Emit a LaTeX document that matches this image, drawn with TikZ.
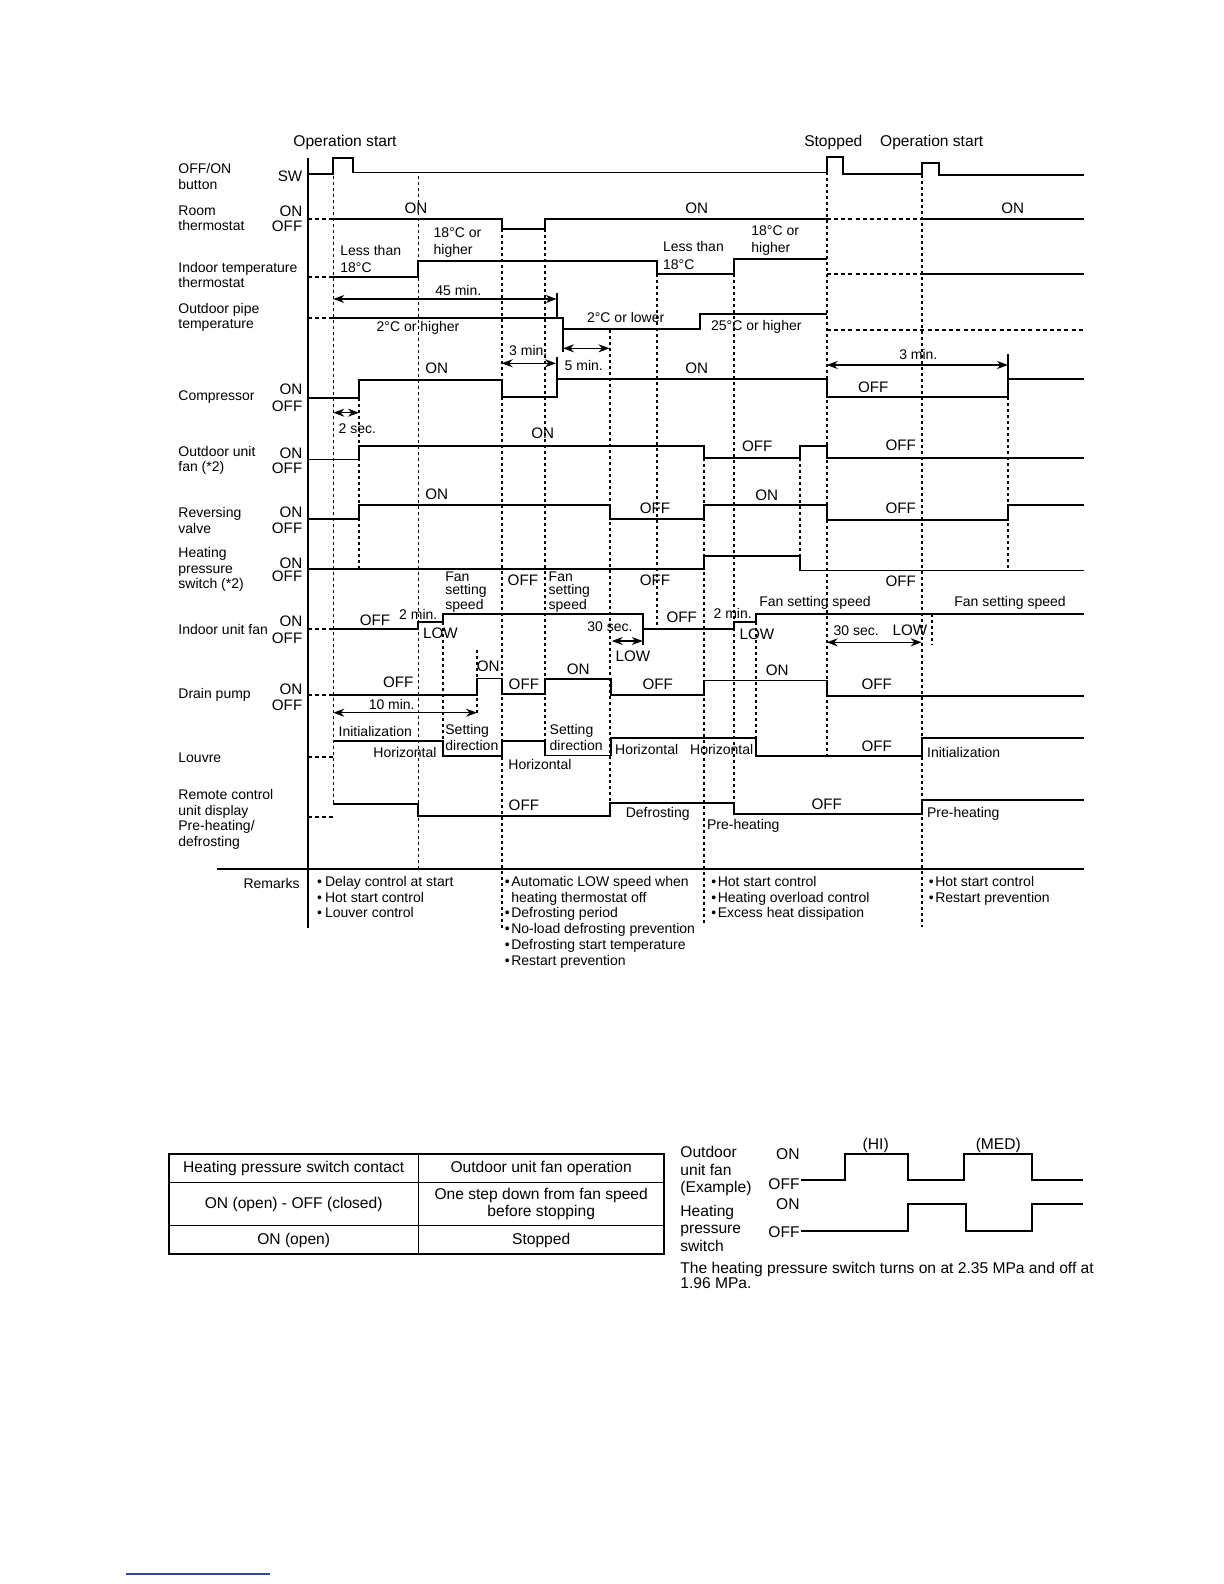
\documentclass[tikz,border=0pt]{standalone}
\usepackage{fontspec}
\setmainfont{Liberation Sans}
\usetikzlibrary{arrows.meta}
\definecolor{clrline}{HTML}{000000}
\definecolor{clrrule}{HTML}{2E4A9E}
\newcommand{\rbul}[1]{\makebox[#1][l]{\textbullet}}
\begin{document}
\begin{tikzpicture}[
    x=0.5pt, y=-0.5pt,
    >={Stealth[length=5.5pt,width=4pt]},
    every node/.style={inner sep=0pt, text=clrline, font=\fontsize{7}{7.75}\selectfont},
    sig/.style={draw=clrline, line width=0.9pt},
    dashsig/.style={draw=clrline, line width=0.85pt, dash pattern=on 2pt off 1.6pt},
    tline/.style={draw=clrline, line width=0.8pt, dash pattern=on 1.7pt off 1.3pt},
    tick/.style={draw=clrline, line width=0.85pt},
    span/.style={<->, draw=clrline, line width=0.7pt},
    axis/.style={draw=clrline, line width=1.1pt},
    state/.style={font=\fontsize{7.6}{8}\selectfont},
    head/.style={font=\fontsize{7.8}{8.6}\selectfont},
    rowlabel/.style={anchor=west, align=left},
    level/.style={anchor=east, state},
    pair/.style={anchor=west, align=left, font=\fontsize{7}{8.6}\selectfont},
    stack/.style={anchor=west, align=left, font=\fontsize{7}{6.4}\selectfont},
    tight/.style={anchor=west, align=left, font=\fontsize{7}{5.9}\selectfont},
    remark/.style={anchor=north west, align=left, font=\fontsize{7}{7.85}\selectfont},
]
\useasboundingbox (0,0) rectangle (1224,1584);

% headings
\node[head] (n_start) at (345,142.3) {Operation start};
\node[head] (n_stop) at (833.3,142) {Stopped};
\node[head] (n_restart) at (931.7,142) {Operation start};

% row labels
\node[rowlabel] (n_sw) at (178,176.3) {OFF/ON\\button};
\node[level, font=\fontsize{7.6}{8}\selectfont] (n_sw_lv) at (302.7,176.7) {SW};
\node[rowlabel] (n_room) at (178,218.5) {Room\\thermostat};
\node[level] (n_room_on) at (302.7,211) {ON};
\node[level] (n_room_off) at (302.7,226) {OFF};
\node[rowlabel] (n_indoor) at (178,275.2) {Indoor temperature\\thermostat};
\node[rowlabel] (n_pipe) at (178,317.2) {Outdoor pipe\\temperature};
\node[rowlabel] (n_comp) at (178,396.7) {Compressor};
\node[level] (n_comp_on) at (302.7,389.5) {ON};
\node[level] (n_comp_off) at (302.7,406.5) {OFF};
\node[rowlabel] (n_ofan) at (178,460.5) {Outdoor unit\\fan (*2)};
\node[level] (n_ofan_on) at (302.7,453.3) {ON};
\node[level] (n_ofan_off) at (302.7,468.3) {OFF};
\node[rowlabel] (n_valve) at (178,520.5) {Reversing\\valve};
\node[level] (n_valve_on) at (302.7,512.7) {ON};
\node[level] (n_valve_off) at (302.7,528.3) {OFF};
\node[rowlabel] (n_hps) at (178,569.7) {Heating\\pressure\\switch (*2)};
\node[level] (n_hps_on) at (302.7,563.3) {ON};
\node[level] (n_hps_off) at (302.7,576.7) {OFF};
\node[rowlabel] (n_ifan) at (178,629.3) {Indoor unit fan};
\node[level] (n_ifan_on) at (302.7,621.7) {ON};
\node[level] (n_ifan_off) at (302.7,638.3) {OFF};
\node[rowlabel] (n_drain) at (178,695) {Drain pump};
\node[level] (n_drain_on) at (302.7,689.3) {ON};
\node[level] (n_drain_off) at (302.7,705) {OFF};
\node[rowlabel] (n_louvre) at (178,757.3) {Louvre};
\node[rowlabel] (n_remote) at (178,819.2) {Remote control\\unit display\\Pre-heating/\\defrosting};
\node[anchor=east] (n_remarks) at (300,883.3) {Remarks};

% axis and remarks rule
\draw[axis] (307.7,158) -- (307.7,928);
\draw[line width=0.9pt] (216.7,869) -- (1084,869);

% time markers
\draw[tline] (333.3,176) -- (333.3,805);
\draw[tline] (359,398) -- (359,569);
\draw[tline] (418.3,176) -- (418.3,868);
\draw[tline] (442.7,622) -- (442.7,756);
\draw[tline] (476.7,650) -- (476.7,716);
\draw[tline] (501.7,229) -- (501.7,930);
\draw[tline] (545,229) -- (545,741);
\draw[tline] (610,330) -- (610,803);
\draw[tline] (657,274) -- (657,628);
\draw[tline] (704,446) -- (704,925);
\draw[tline] (734,274) -- (734,814);
\draw[tline] (755.7,622) -- (755.7,756);
\draw[tline] (800,446) -- (800,570);
\draw[tline] (826.7,172) -- (826.7,755);
\draw[tline] (921.7,175) -- (921.7,927);
\draw[tline] (931.7,614) -- (931.7,645);
\draw[tline] (1008,379) -- (1008,569);

% OFF/ON button
\draw[sig] (307.7,174.3) -- (333.3,174.3) -- (333.3,158.3) -- (352.7,158.3) -- (352.7,172.5) -- (826.7,172.5) -- (826.7,157.3) -- (842.7,157.3) -- (842.7,174.3) -- (921.7,174.3) -- (921.7,163.3) -- (939,163.3) -- (939,175) -- (1084,175);

% room thermostat
\draw[dashsig] (307.7,219.3) -- (333.3,219.3);
\draw[sig] (333.3,219.3) -- (501.7,219.3) -- (501.7,229.3) -- (545,229.3) -- (545,219.3) -- (826.7,219.3);
\draw[dashsig] (826.7,219.3) -- (921.7,219.3);
\draw[sig] (921.7,219.3) -- (1084,219.3);
\node[state] (n_room_1) at (416,208.3) {ON};
\node[state] (n_room_2) at (696.7,208.3) {ON};
\node[state] (n_room_3) at (1012.7,208.3) {ON};

% indoor temperature thermostat
\draw[dashsig] (307.7,276.7) -- (333.3,276.7);
\draw[sig] (333.3,276.7) -- (418.3,276.7) -- (418.3,260.7) -- (657,260.7) -- (657,274.3) -- (734,274.3) -- (734,259) -- (826.7,259);
\draw[dashsig] (826.7,274.3) -- (921.7,274.3);
\draw[sig] (921.7,274.3) -- (1084,274.3);
\node[pair] (n_indoor_1) at (340,258.8) {Less than\\18°C};
\node[pair] (n_indoor_2) at (433.3,242.7) {18°C or\\higher};
\node[pair] (n_indoor_3) at (662.7,255.5) {Less than\\18°C};
\node[pair] (n_indoor_4) at (751,240.3) {18°C or\\higher};
\draw[span] (333.3,299) -- (556.7,299);
\draw[tick] (556.7,293) -- (556.7,317);
\node (n_45min) at (458.3,290.7) {45 min.};

% outdoor pipe temperature
\draw[dashsig] (307.7,317.7) -- (333.3,317.7);
\draw[sig] (333.3,317.7) -- (562.7,317.7) -- (562.7,329.3) -- (700,329.3) -- (700,314.3) -- (826.7,314.3);
\draw[dashsig] (826.7,330) -- (1084,330);
\draw[tick] (562.7,329.3) -- (562.7,352);
\node (n_pipe_1) at (418,328.3) {2°C or higher};
\node[anchor=west] (n_pipe_2) at (586.7,317.7) {2°C or lower};
\node[anchor=west] (n_pipe_3) at (710.7,326.7) {25°C or higher};

% compressor
\draw[sig] (307.7,397.7) -- (359,397.7) -- (359,380) -- (501.7,380) -- (501.7,397.3) -- (556.7,397.3) -- (556.7,379) -- (826.7,379) -- (826.7,397) -- (1008,397) -- (1008,379) -- (1084,379);
\draw[tick] (556.7,357) -- (556.7,379);
\draw[tick] (1008,354) -- (1008,379);
\draw[span] (501.7,363.3) -- (556,363.3);
\draw[span] (563,348.3) -- (609.5,348.3);
\draw[span] (826.7,365) -- (1008,365);
\draw[span] (333.3,412.7) -- (359,412.7);
\node (n_3min_a) at (528.3,350.7) {3 min.};
\node[anchor=west] (n_5min) at (564.3,365) {5 min.};
\node (n_3min_b) at (918.3,354) {3 min.};
\node[anchor=west] (n_2sec) at (338.3,428.3) {2 sec.};
\node[state] (n_comp_1) at (436.7,368.3) {ON};
\node[state] (n_comp_2) at (696.7,368.3) {ON};
\node[state] (n_comp_3) at (873.3,387.3) {OFF};

% outdoor unit fan
\draw[sig] (307.7,459.5) -- (359,459.5) -- (359,446) -- (704,446) -- (704,457.7) -- (800,457.7) -- (800,445.7) -- (826.7,445.7) -- (826.7,457.7) -- (1084,457.7);
\node[state] (n_ofan_1) at (542.7,433.3) {ON};
\node[state] (n_ofan_2) at (757.3,446.7) {OFF};
\node[state] (n_ofan_3) at (900.7,445.7) {OFF};

% reversing valve
\draw[sig] (307.7,519.3) -- (359,519.3) -- (359,504.7) -- (610,504.7) -- (610,519) -- (704,519) -- (704,505) -- (826.7,505) -- (826.7,519.7) -- (1008,519.7) -- (1008,505) -- (1084,505);
\node[state] (n_valve_1) at (436.7,494.3) {ON};
\node[state] (n_valve_2) at (766.7,495) {ON};
\node[state] (n_valve_3) at (655,508.3) {OFF};
\node[state] (n_valve_4) at (900.7,508.3) {OFF};

% heating pressure switch
\draw[sig] (307.7,569) -- (704,569) -- (704,556) -- (800,556) -- (800,570.5) -- (1084,570.5);
\node[stack] (n_hps_1) at (445,592.3) {Fan\\setting\\speed};
\node[state, anchor=west] (n_hps_2) at (507.3,580) {OFF};
\node[stack] (n_hps_3) at (548.3,592.3) {Fan\\setting\\speed};
\node[state] (n_hps_4) at (655,580.7) {OFF};
\node[state] (n_hps_5) at (900.7,581.7) {OFF};

% indoor unit fan
\draw[dashsig] (307.7,629.3) -- (333.3,629.3);
\draw[sig] (333.3,629.3) -- (418.3,629.3) -- (418.3,621.7) -- (442.7,621.7) -- (442.7,614) -- (642.7,614) -- (642.7,629) -- (734,629) -- (734,621.7) -- (755.7,621.7) -- (755.7,614) -- (1084,614);
\draw[tick] (642.7,629) -- (642.7,645);
\draw[span] (611.7,641) -- (642.7,641);
\draw[span] (826.7,642.3) -- (921.7,642.3);
\node[state] (n_ifan_1) at (375,620) {OFF};
\node (n_2min_a) at (418.3,614) {2 min.};
\node[state, anchor=west] (n_ifan_2) at (422.7,633.3) {LOW};
\node (n_30sec_a) at (610,626.7) {30 sec.};
\node[state] (n_ifan_3) at (633,656.7) {LOW};
\node[state] (n_ifan_4) at (681.7,617.3) {OFF};
\node (n_2min_b) at (732.7,613.3) {2 min.};
\node[state, anchor=west] (n_ifan_5) at (739.3,634) {LOW};
\node (n_ifan_6) at (815,603.3) {Fan setting speed};
\node (n_ifan_7) at (1010,603.3) {Fan setting speed};
\node[anchor=west] (n_30sec_b) at (833.3,630.7) {30 sec.};
\node[state] (n_ifan_8) at (910,630) {LOW};

% drain pump
\draw[dashsig] (307.7,695) -- (333.3,695);
\draw[sig] (333.3,695) -- (477,695) -- (477,678.5) -- (501.7,678.5) -- (501.7,694) -- (545,694) -- (545,679.3) -- (610.7,679.3) -- (610.7,695) -- (704,695) -- (704,680.5) -- (826.7,680.5) -- (826.7,695.7) -- (1084,695.7);
\draw[span] (333.3,712.7) -- (477,712.7);
\node (n_10min) at (391.7,704.5) {10 min.};
\node[state] (n_drain_1) at (488.3,666.7) {ON};
\node[state] (n_drain_2) at (398.3,682.7) {OFF};
\node[state, anchor=west] (n_drain_3) at (508.3,684) {OFF};
\node[state] (n_drain_4) at (578.3,669.3) {ON};
\node[state] (n_drain_5) at (657.7,684) {OFF};
\node[state] (n_drain_6) at (777.3,670) {ON};
\node[state] (n_drain_7) at (876.7,684.3) {OFF};

% louvre
\draw[dashsig] (307.7,757.3) -- (333.3,757.3);
\draw[sig] (333.3,740.7) -- (442.7,740.7) -- (442.7,755.7) -- (501.7,755.7) -- (501.7,740.7) -- (545,740.7) -- (545,755.5) -- (610.7,755.5) -- (610.7,738.3) -- (755.7,738.3) -- (755.7,755.7) -- (921.7,755.7) -- (921.7,738.3) -- (1084,738.3);
\node[anchor=west] (n_louvre_1) at (338.3,731) {Initialization};
\node (n_louvre_2) at (405,752.7) {Horizontal};
\node[tight] (n_louvre_3) at (445,737.5) {Setting\\direction};
\node[tight] (n_louvre_4) at (549.3,737.5) {Setting\\direction};
\node (n_louvre_5) at (540,764.3) {Horizontal};
\node (n_louvre_6) at (646.7,749.3) {Horizontal};
\node (n_louvre_7) at (721.7,749.3) {Horizontal};
\node[state] (n_louvre_8) at (876.7,746) {OFF};
\node[anchor=west] (n_louvre_9) at (926.7,752.3) {Initialization};

% remote control unit display
\draw[dashsig] (307.7,816.7) -- (333.3,816.7);
\draw[sig] (333.3,804) -- (418.3,804) -- (418.3,816) -- (610,816) -- (610,802.7) -- (734,802.7) -- (734,814) -- (921.7,814) -- (921.7,800) -- (1084,800);
\node[state, anchor=west] (n_remote_1) at (508.3,805) {OFF};
\node (n_remote_2) at (657.7,814.3) {Defrosting};
\node[anchor=west] (n_remote_3) at (706.7,825.7) {Pre-heating};
\node[state] (n_remote_4) at (826.7,804) {OFF};
\node[anchor=west] (n_remote_5) at (926.7,814) {Pre-heating};

% remarks
\node[remark] (n_rem_1) at (316.7,876) {\rbul{4pt}Delay control at start\\\rbul{4pt}Hot start control\\\rbul{4pt}Louver control};
\node[remark] (n_rem_2) at (504.5,876) {\rbul{3.2pt}Automatic LOW speed when\\\hspace*{3.2pt}heating thermostat off\\\rbul{3.2pt}Defrosting period\\\rbul{3.2pt}No-load defrosting prevention\\\rbul{3.2pt}Defrosting start temperature\\\rbul{3.2pt}Restart prevention};
\node[remark] (n_rem_3) at (711,876) {\rbul{3.2pt}Hot start control\\\rbul{3.2pt}Heating overload control\\\rbul{3.2pt}Excess heat dissipation};
\node[remark] (n_rem_4) at (928.5,876) {\rbul{3.2pt}Hot start control\\\rbul{3.2pt}Restart prevention};

% table
\draw[line width=1.1pt] (169,1154.3) rectangle (664,1254.3);
\draw[line width=0.7pt] (418.3,1154.3) -- (418.3,1254.3);
\draw[line width=0.7pt] (169,1182.3) -- (664,1182.3);
\draw[line width=0.7pt] (169,1225.7) -- (664,1225.7);
\node[head] (n_tab_11) at (293.7,1168.3) {Heating pressure switch contact};
\node[head] (n_tab_12) at (541.2,1168.3) {Outdoor unit fan operation};
\node[head] (n_tab_21) at (293.7,1204) {ON (open) - OFF (closed)};
\node[head, align=center] (n_tab_22) at (541.2,1204) {One step down from fan speed\\before stopping};
\node[head] (n_tab_31) at (293.7,1240) {ON (open)};
\node[head] (n_tab_32) at (541.2,1240) {Stopped};

% example waveforms
\node[head, anchor=west, align=left] (n_ex_fan) at (680,1171) {Outdoor\\unit fan\\(Example)};
\node[head, anchor=west, align=left] (n_ex_hps) at (680,1228.3) {Heating\\pressure\\switch};
\node[head, anchor=east] (n_ex_fan_on) at (800,1154.3) {ON};
\node[head, anchor=east] (n_ex_fan_off) at (800,1184) {OFF};
\node[head, anchor=east] (n_ex_hps_on) at (800,1204.3) {ON};
\node[head, anchor=east] (n_ex_hps_off) at (800,1232.3) {OFF};
\node[head] (n_ex_hi) at (875.7,1145.7) {(HI)};
\node[head] (n_ex_med) at (998.3,1145.7) {(MED)};
\draw[sig] (801,1180) -- (845,1180) -- (845,1154.3) -- (908.3,1154.3) -- (908.3,1180) -- (964.3,1180) -- (964.3,1154.3) -- (1031.7,1154.3) -- (1031.7,1180) -- (1083.3,1180);
\draw[sig] (801,1231) -- (908.3,1231) -- (908.3,1204.3) -- (966,1204.3) -- (966,1231) -- (1031.7,1231) -- (1031.7,1204.3) -- (1083.3,1204.3);
\node[head, anchor=west, align=left, font=\fontsize{7.8}{7.9}\selectfont] (n_ex_note) at (680,1275.5) {The heating pressure switch turns on at 2.35 MPa and off at\\1.96 MPa.};

% footer rule
\draw[line width=0.6pt, clrrule] (126,1574) -- (270,1574);
\end{tikzpicture}
\end{document}
